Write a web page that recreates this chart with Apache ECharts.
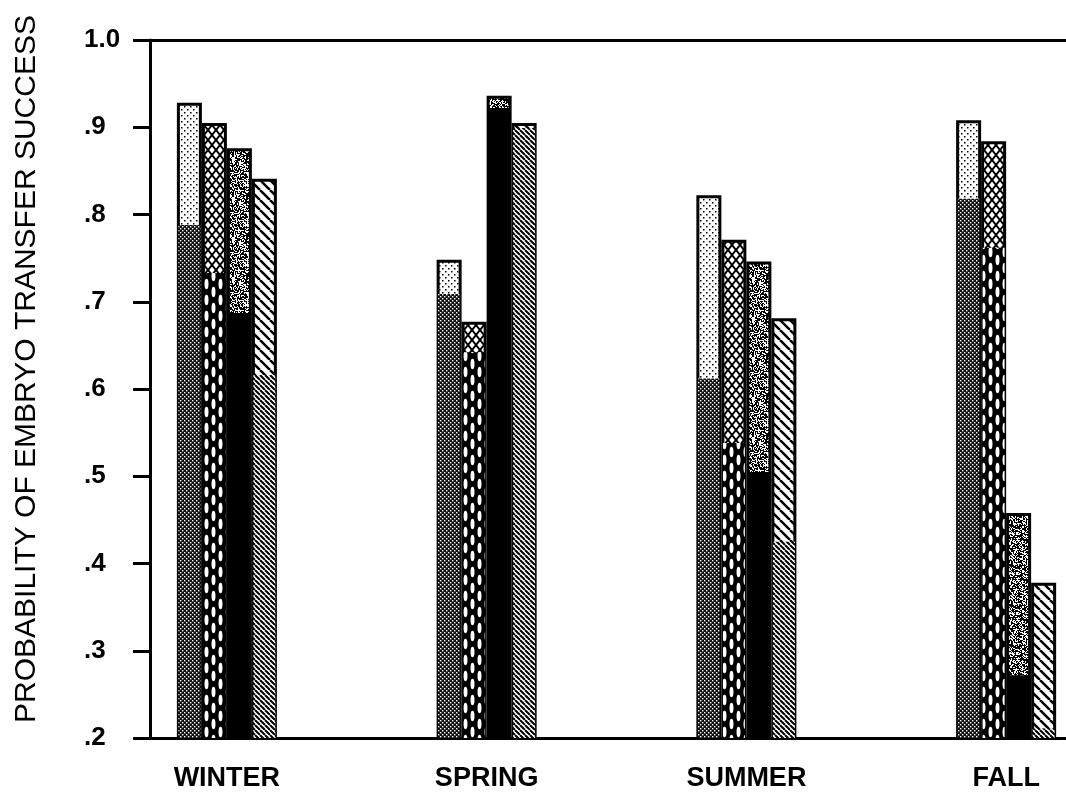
<!DOCTYPE html>
<html>
<head>
<meta charset="utf-8">
<script src="https://cdn.jsdelivr.net/npm/echarts@6/dist/echarts.min.js"></script>
<style>
  html, body { margin: 0; padding: 0; background: #fff; overflow: hidden; }
  #chart { width: 1136px; height: 794px; }
</style>
</head>
<body>
<div id="chart"></div>
<script>
// seasons on the x axis
var seasons = ["WINTER", "SPRING", "SUMMER", "FALL"];
var yTickLabels = [".2", ".3", ".4", ".5", ".6", ".7", ".8", ".9", "1.0"];

// top of each bar (whole bar) and the level where the darker lower part stops
var top1 = [0.928, 0.748, 0.822, 0.908];
var low1 = [0.788, 0.709, 0.612, 0.818];
var top2 = [0.905, 0.677, 0.771, 0.884];
var low2 = [0.733, 0.642, 0.538, 0.762];
var top3 = [0.876, 0.936, 0.746, 0.458];
var low3 = [0.687, 0.922, 0.505, 0.272];
var top4 = [0.841, 0.905, 0.681, 0.378];
var low4 = [0.616, 0.899, 0.425, 0.211];

function tile(w, h, bg, draw) {
  var c = document.createElement("canvas");
  c.width = w;
  c.height = h;
  var ctx = c.getContext("2d");
  ctx.fillStyle = bg;
  ctx.fillRect(0, 0, w, h);
  draw(ctx);
  return { image: c, repeat: "repeat" };
}

// light stipple
var lightDots = tile(6, 6, "#fff", function(ctx) {
  ctx.fillStyle = "#000";
  ctx.fillRect(1, 1, 1.5, 1.5);
  ctx.fillRect(4, 4, 1.5, 1.5);
});
// dark dotted
var darkDots = tile(4, 4, "#111", function(ctx) {
  ctx.fillStyle = "#fff";
  ctx.fillRect(0, 0, 1.4, 1.4);
  ctx.fillRect(2, 2, 1.4, 1.4);
});
// open diamond lattice
var lattice = tile(8, 10, "#fff", function(ctx) {
  ctx.strokeStyle = "#000";
  ctx.lineWidth = 2;
  ctx.beginPath();
  ctx.moveTo(0, 0); ctx.lineTo(8, 10);
  ctx.moveTo(8, 0); ctx.lineTo(0, 10);
  ctx.stroke();
});
// black with white slim ovals
var ovals = tile(14, 16, "#000", function(ctx) {
  ctx.fillStyle = "#fff";
  [[3.5, 4], [10.5, 12], [10.5, -4], [3.5, 20]].forEach(function(p) {
    ctx.beginPath();
    ctx.ellipse(p[0], p[1], 2, 5.2, 0, 0, Math.PI * 2);
    ctx.fill();
  });
});
// mottled grey texture
var mottled = tile(40, 40, "#fff", function(ctx) {
  ctx.fillStyle = "#000";
  for (var y = 0; y < 40; y++) {
    for (var x = 0; x < 40; x++) {
      var s = Math.sin(x * 12.9898 + y * 78.233) * 43758.5453;
      if (s - Math.floor(s) > 0.45) ctx.fillRect(x, y, 1, 1);
    }
  }
});
// wide diagonal hatch
var hatchWide = tile(10, 10, "#fff", function(ctx) {
  ctx.strokeStyle = "#000";
  ctx.lineWidth = 2.5;
  ctx.beginPath();
  for (var k = -10; k <= 10; k += 10) {
    ctx.moveTo(k, 0);
    ctx.lineTo(k + 10, 10);
  }
  ctx.stroke();
});
// dense diagonal hatch
var hatchDense = tile(5, 5, "#fff", function(ctx) {
  ctx.strokeStyle = "#000";
  ctx.lineWidth = 2;
  ctx.beginPath();
  for (var k = -5; k <= 5; k += 5) {
    ctx.moveTo(k, 0);
    ctx.lineTo(k + 5, 5);
  }
  ctx.stroke();
});

var tops = [top1, top2, top3, top4];
var lows = [low1, low2, low3, low4];
var upperFill = [lightDots, lattice, mottled, hatchWide];
var lowerFill = [darkDots, ovals, "#000", hatchDense];

var series = [];
tops.forEach(function(d, i) {
  series.push({
    name: "bar " + (i + 1),
    type: "bar",
    xAxisIndex: 2,
    yAxisIndex: 1,
    barWidth: 25,
    barGap: "0%",
    z: 2,
    itemStyle: { color: upperFill[i], borderColor: "#000", borderWidth: 3 },
    data: d
  });
});
lows.forEach(function(d, i) {
  series.push({
    name: "bar " + (i + 1) + " lower",
    type: "bar",
    xAxisIndex: 3,
    yAxisIndex: 1,
    barWidth: 22,
    barGap: "13.64%",
    z: 3,
    itemStyle: { color: lowerFill[i], borderWidth: 0 },
    data: d
  });
});

var frameLine = {
  show: true,
  lineStyle: { color: "#000", width: 3 }
};

var chart = echarts.init(document.getElementById("chart"));
chart.setOption({
  animation: false,
  backgroundColor: "#fff",
  grid: [
    { left: 150, right: 70, top: 40, bottom: 56 },
    { left: 97, right: 0, top: 40, bottom: 56 }
  ],
  xAxis: [
    { gridIndex: 0, type: "value", position: "bottom", min: 0, max: 1,
      axisLine: frameLine, axisTick: { show: false }, axisLabel: { show: false }, splitLine: { show: false } },
    { gridIndex: 0, type: "value", position: "top", min: 0, max: 1,
      axisLine: frameLine, axisTick: { show: false }, axisLabel: { show: false }, splitLine: { show: false } },
    { gridIndex: 1, type: "category", data: seasons,
      axisLine: { show: false }, axisTick: { show: false }, splitLine: { show: false },
      axisLabel: {
        margin: 27,
        color: "#000",
        fontSize: 27,
        fontFamily: "Liberation Sans",
        fontWeight: "bold"
      } },
    { gridIndex: 1, type: "category", data: seasons, show: false }
  ],
  yAxis: [
    { gridIndex: 0, type: "value", min: 0.2, max: 1.0, interval: 0.1,
      axisLine: frameLine,
      axisTick: { show: true, length: 17, lineStyle: { color: "#000", width: 3 } },
      splitLine: { show: false },
      axisLabel: {
        align: "left",
        margin: 66,
        color: "#000",
        fontSize: 26,
        fontFamily: "Liberation Sans",
        fontWeight: "bold",
        formatter: function(v) {
          return yTickLabels[Math.round((v - 0.2) * 10)];
        }
      },
      name: "PROBABILITY OF EMBRYO TRANSFER SUCCESS",
      nameLocation: "middle",
      nameRotate: 90,
      nameGap: 108,
      nameTextStyle: {
        color: "#000",
        fontSize: 30,
        fontFamily: "Liberation Sans",
        padding: [0, 0, 0, 40]
      } },
    { gridIndex: 1, type: "value", min: 0.2, max: 1.0, show: false }
  ],
  series: series
});
</script>
</body>
</html>
